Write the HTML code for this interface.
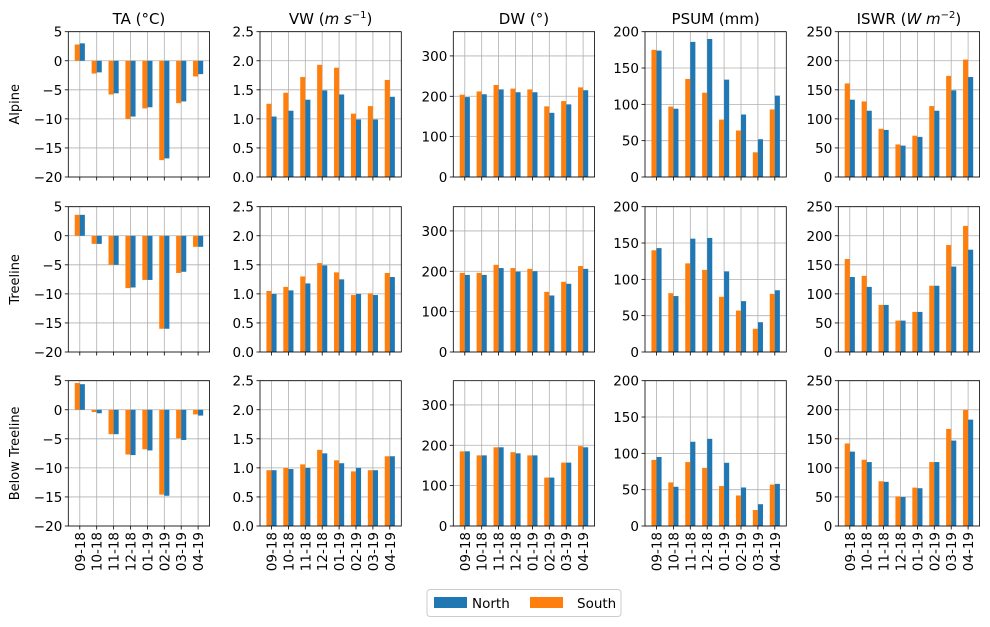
<!DOCTYPE html>
<html><head><meta charset="utf-8"><style>
html,body{margin:0;padding:0;background:#fff;}
svg{display:block;font-family:"DejaVu Sans","Liberation Sans",sans-serif;}
</style></head><body>
<svg id="fig" width="990" height="627" viewBox="0 0 990 627" xmlns="http://www.w3.org/2000/svg"></svg>
<script>
const categories = ["09-18","10-18","11-18","12-18","01-19","02-19","03-19","04-19"];
const zones = ["Alpine","Treeline","Below Treeline"];
const taSouth = [[2.8,-2.2,-5.8,-10,-8.2,-17.1,-7.3,-2.7],[3.6,-1.4,-5,-9,-7.6,-16,-6.4,-1.9],[4.6,-0.4,-4.2,-7.7,-6.8,-14.6,-4.9,-0.8]];
const taNorth = [[3.0,-2.0,-5.6,-9.6,-8.0,-16.8,-7.0,-2.3],[3.6,-1.4,-5,-8.9,-7.6,-16,-6.2,-1.9],[4.4,-0.6,-4.2,-7.8,-7.0,-14.8,-5.2,-1.0]];
const vwSouth = [[1.26,1.45,1.72,1.93,1.88,1.09,1.22,1.67],[1.05,1.12,1.3,1.53,1.37,0.98,1.01,1.36],[0.96,1.0,1.06,1.31,1.13,0.94,0.96,1.2]];
const vwNorth = [[1.04,1.14,1.33,1.49,1.42,0.99,0.99,1.38],[1.0,1.06,1.18,1.49,1.25,1.0,0.98,1.29],[0.96,0.98,1.0,1.25,1.08,1.0,0.96,1.2]];
const dwSouth = [[204,212,228,219,217,175,188,222],[196,196,216,208,206,149,174,213],[185,175,195,183,175,120,157,198]];
const dwNorth = [[198,205,217,210,210,159,180,215],[191,191,208,199,200,140,169,206],[185,175,195,180,175,120,157,195]];
const psumSouth = [[175,97,135,116,79,64,34,93],[140,81,122,113,76,57,32,80],[91,60,88,80,55,42,22,57]];
const psumNorth = [[174,94,186,190,134,86,52,112],[143,77,156,157,111,70,41,85],[95,54,116,120,87,53,30,58]];
const iswrSouth = [[161,130,83,56,71,122,174,202],[160,131,81,54,69,114,184,217],[142,114,77,51,66,110,167,200]];
const iswrNorth = [[133,114,81,54,69,114,149,172],[129,112,81,54,69,114,147,176],[128,110,76,50,65,110,147,183]];
const titles = ['TA (°C)','VW (<tspan font-style="italic">m s</tspan><tspan dy="-6" font-size="10">−1</tspan><tspan dy="6">)</tspan>','DW (°)','PSUM (mm)','ISWR (<tspan font-style="italic">W m</tspan><tspan dy="-6" font-size="10">−2</tspan><tspan dy="6">)</tspan>'];
const yTicks = [[5,0,-5,-10,-15,-20],[0,0.5,1,1.5,2,2.5],[0,100,200,300],[0,50,100,150,200],[0,50,100,150,200,250]];
const yTickLabels = [["5","0","−5","−10","−15","−20"],["0.0","0.5","1.0","1.5","2.0","2.5"],["0","100","200","300"],["0","50","100","150","200"],["0","50","100","150","200","250"]];
const yLims = [[-20,5],[0,2.5],[0,360],[0,200],[0,250]];
const southSets = [taSouth,vwSouth,dwSouth,psumSouth,iswrSouth];
const northSets = [taNorth,vwNorth,dwNorth,psumNorth,iswrNorth];
const varNames = ["ta","vw","dw","psum","iswr"];

const NS="http://www.w3.org/2000/svg";
const svg=document.getElementById('fig');
const colL=[68.3,260,453.3,645,838.3], W=141.3;
const rowT=[31.7,206.7,380.7], H=145.3;
const BLUE="#1f77b4", ORANGE="#ff7f0e";
function mk(tag,attrs,parent){const e=document.createElementNS(NS,tag);for(const k in attrs)e.setAttribute(k,attrs[k]);(parent||svg).appendChild(e);return e;}

for(let c=0;c<5;c++){
  const t=mk('text',{x:colL[c]+W/2,y:24,'text-anchor':'middle','font-size':15,fill:'#000'});
  t.innerHTML=titles[c];
  
  
}
for(let r=0;r<3;r++){
  const cy=rowT[r]+H/2;
  const t=mk('text',{x:0,y:0,'text-anchor':'middle','font-size':13,transform:`translate(19,${cy}) rotate(-90)`});
  t.textContent=zones[r];
  
  
}
for(let r=0;r<3;r++){
  for(let c=0;c<5;c++){
    const g=mk('g',{});
    
    
    const L=colL[c], T=rowT[r];
    const [y0,y1]=yLims[c];
    const ys=v=>T+H-(v-y0)/(y1-y0)*H;
    const xmin=-0.68, xmax=7.68;
    const xs=v=>L+(v-xmin)/(xmax-xmin)*W;
    // grid
    yTicks[c].forEach((tv,i)=>{
      const y=ys(tv);
      mk('line',{x1:L,x2:L+W,y1:y,y2:y,stroke:'#b0b0b0','stroke-width':0.8},g);
      mk('line',{x1:L-3.5,x2:L,y1:y,y2:y,stroke:'#000','stroke-width':0.8},g);
      const tl=mk('text',{x:L-6,y:y+5,'text-anchor':'end','font-size':13.5},g);
      tl.textContent=yTickLabels[c][i];
      
      
    });
    categories.forEach((cat,i)=>{
      const x=xs(i);
      mk('line',{x1:x,x2:x,y1:T,y2:T+H,stroke:'#b0b0b0','stroke-width':0.8},g);
      mk('line',{x1:x,x2:x,y1:T+H,y2:T+H+3.5,stroke:'#000','stroke-width':0.8},g);
      if(r===2){
        const tl=mk('text',{x:0,y:0,'text-anchor':'end','font-size':13.5,transform:`translate(${x+5},${T+H+6}) rotate(-90)`},g);
        tl.textContent=cat;
        
        
      }
    });
    const zero=ys(Math.max(y0,0));
    const sv=southSets[c][r], nv=northSets[c][r];
    categories.forEach((cat,i)=>{
      const ysv=ys(sv[i]);
      const b1=mk('rect',{x:xs(i-0.3),width:xs(0.3)-xs(0),y:Math.min(ysv,zero),height:Math.abs(zero-ysv),fill:ORANGE},g);
      
      
      const ynv=ys(nv[i]);
      const b2=mk('rect',{x:xs(i),width:xs(0.3)-xs(0),y:Math.min(ynv,zero),height:Math.abs(zero-ynv),fill:BLUE},g);
      
      
    });
    mk('rect',{x:L,y:T,width:W,height:H,fill:'none',stroke:'#000','stroke-width':0.8},g);
  }
}
// legend
const lg=mk('g',{});


mk('rect',{x:427,y:589.5,width:194,height:27,rx:3,fill:'#fff',stroke:'#ccc','stroke-width':1},lg);
mk('rect',{x:434,y:597,width:33,height:11,fill:BLUE},lg);
const ln=mk('text',{x:472,y:608,'font-size':13.5},lg);
ln.textContent='North';


mk('rect',{x:530,y:597,width:33,height:11,fill:ORANGE},lg);
const ls=mk('text',{x:577,y:608,'font-size':13.5},lg);
ls.textContent='South';


</script>
</body></html>
